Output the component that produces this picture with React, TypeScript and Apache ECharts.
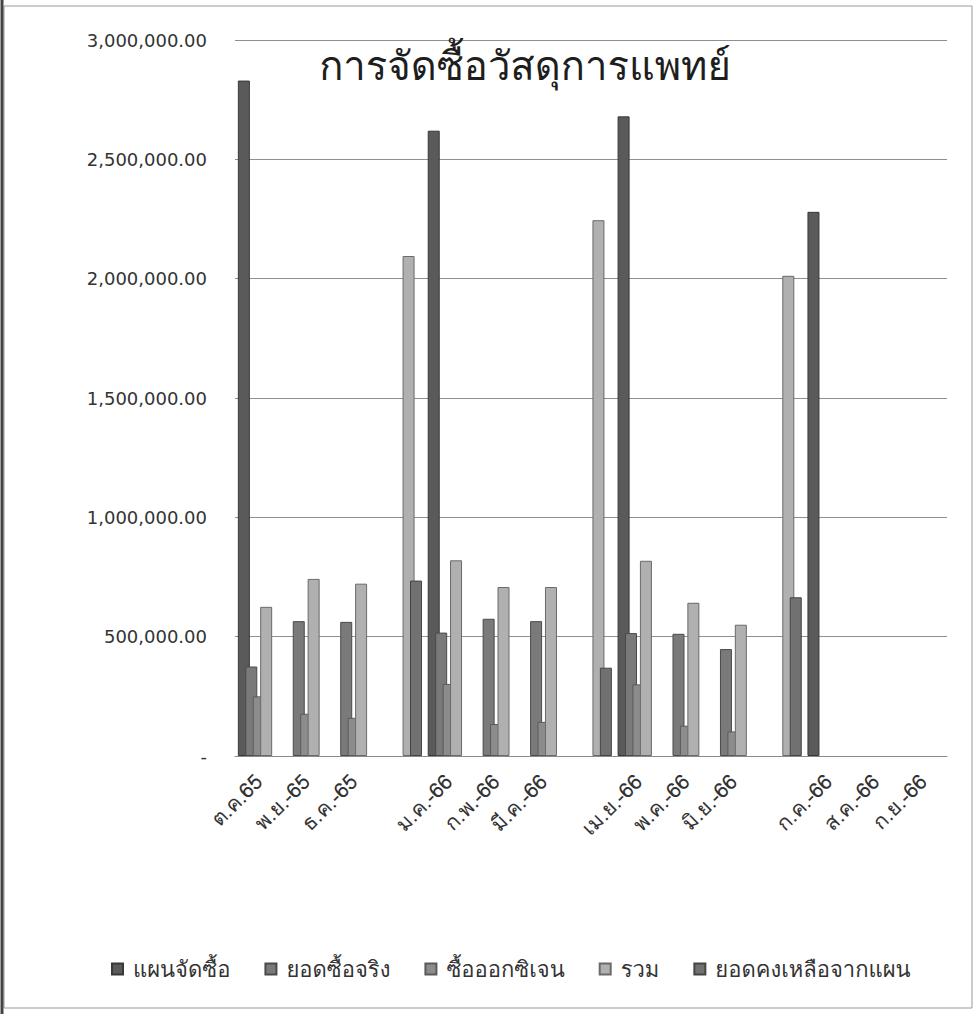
import React, { useEffect, useRef } from "react";
import * as echarts from "echarts";

const categories = [
  "ต.ค.65", "พ.ย.-65", "ธ.ค.-65", "",
  "ม.ค.-66", "ก.พ.-66", "มี.ค.-66", "",
  "เม.ย.-66", "พ.ค.-66", "มิ.ย.-66", "",
  "ก.ค.-66", "ส.ค.-66", "ก.ย.-66",
];

const seriesNames = ["แผนจัดซื้อ", "ยอดซื้อจริง", "ซื้อออกซิเจน", "รวม", "ยอดคงเหลือจากแผน"];

const planValues = [2830000, null, null, null, 2620000, null, null, null, 2680000, null, null, null, 2280000, null, null];
const actualValues = [375000, 565000, 562000, null, 517000, 575000, 565000, null, 515000, 512000, 448000, null, null, null, null];
const oxygenValues = [250000, 177000, 160000, null, 302000, 134000, 143000, null, 300000, 127000, 103000, null, null, null, null];
const totalValues = [625000, 742000, 722000, 2095000, 820000, 708000, 708000, 2245000, 818000, 642000, 550000, 2012000, null, null, null];
const remainingValues = [null, null, null, 735000, null, null, null, 370000, null, null, null, 665000, null, null, null];

const yTicks = [0, 500000, 1000000, 1500000, 2000000, 2500000, 3000000];

const fills = ["#5a5a5a", "#7a7a7a", "#8c8c8c", "#b0b0b0", "#717171"];
const borders = ["#383838", "#4a4a4a", "#5a5a5a", "#6a6a6a", "#454545"];

const THAI = "Tahoma, Loma, 'Noto Sans Thai', Garuda, 'DejaVu Sans', sans-serif";

function fmt(v: number) {
  if (v === 0) return "-";
  return v.toLocaleString("en-US", { minimumFractionDigits: 2, maximumFractionDigits: 2 });
}

export default function App() {
  const ref = useRef<HTMLDivElement>(null);
  useEffect(() => {
    if (!ref.current) return;
    const chart = echarts.init(ref.current, null, { renderer: "svg" });
    const allData = [planValues, actualValues, oxygenValues, totalValues, remainingValues];
    chart.setOption({
      animation: false,
      backgroundColor: "#ffffff",
      title: {
        text: "การจัดซื้อวัสดุการแพทย์",
        left: 520,
        top: 41,
        textAlign: "center",
        textStyle: { fontFamily: THAI, fontSize: 40, fontWeight: "normal", color: "#1e1e1e" },
      },
      legend: {
        data: seriesNames,
        left: 106,
        top: 953,
        itemWidth: 11,
        itemHeight: 11,
        itemGap: 34,
        icon: "rect",
        textStyle: { fontFamily: THAI, fontSize: 22, color: "#333", padding: [0, 0, 0, 5] },
      },
      grid: { left: 235, right: 33, top: 40, bottom: 258, containLabel: false },
      xAxis: {
        type: "category",
        data: categories,
        axisTick: { show: false },
        axisLine: { lineStyle: { color: "#8a8a8a", width: 1 } },
        axisLabel: {
          interval: 0,
          rotate: 45,
          margin: 22,
          fontFamily: THAI,
          fontSize: 21,
          color: "#333",
        },
      },
      yAxis: {
        type: "value",
        min: 0,
        max: 3000000,
        interval: 500000,
        axisLine: { show: false },
        axisTick: { show: false },
        splitLine: { lineStyle: { color: "#8f8f8f", width: 1 } },
        axisLabel: {
          margin: 28,
          fontFamily: "'DejaVu Sans', Verdana, sans-serif",
          fontSize: 18,
          color: "#333",
          formatter: (v: number) => (yTicks.includes(v) ? fmt(v) : ""),
        },
      },
      series: seriesNames.map((name, i) => ({
        name,
        type: "bar",
        data: allData[i],
        barWidth: 12,
        barGap: "-38%",
        itemStyle: { color: fills[i], borderColor: borders[i], borderWidth: 1 },
      })),
      graphic: [
        { type: "rect", shape: { x: 4, y: 6, width: 968, height: 1002 }, style: { fill: "none", stroke: "#999", lineWidth: 1 } },
        { type: "line", shape: { x1: 2, y1: 0, x2: 2, y2: 1014 }, style: { stroke: "#444", lineWidth: 3 } },
      ],
    });
    return () => chart.dispose();
  }, []);
  return <div ref={ref} style={{ position: "absolute", left: 0, top: 0, width: 980, height: 1014 }} />;
}
